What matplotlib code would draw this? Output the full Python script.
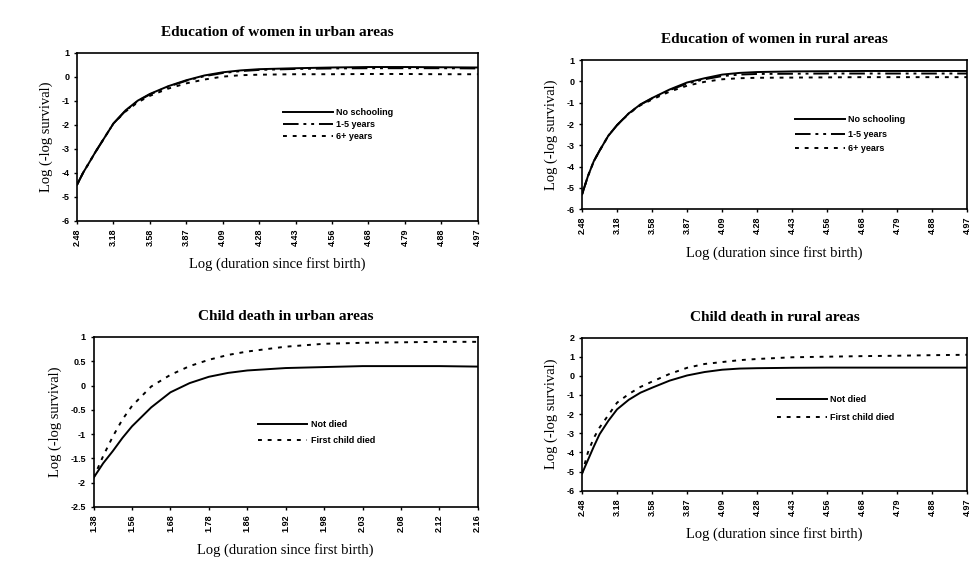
import matplotlib
matplotlib.use("Agg")
import matplotlib.pyplot as plt

# duration since first birth (months) and the log labels shown on the axes
months_ed = [12, 14, 16, 18, 21, 24, 28, 32, 36, 42, 48, 54, 60, 66, 72, 84, 96, 108, 120, 132, 144]
tick_months = [12, 24, 36, 48, 60, 72, 84, 96, 108, 120, 132, 144]
tick_labels_ln = ["2.48", "3.18", "3.58", "3.87", "4.09", "4.28", "4.43", "4.56", "4.68", "4.79", "4.88", "4.97"]

# education, urban
urb_none = [-4.5, -4.0, -3.58, -3.15, -2.55, -1.95, -1.4, -1.0, -0.72, -0.4, -0.15, 0.05, 0.18, 0.26, 0.31, 0.35, 0.38, 0.40, 0.40, 0.39, 0.38]
urb_1_5 = [-4.5, -4.0, -3.58, -3.15, -2.55, -1.95, -1.42, -1.02, -0.74, -0.42, -0.17, 0.02, 0.15, 0.23, 0.28, 0.32, 0.34, 0.35, 0.35, 0.35, 0.34]
urb_6p = [-4.5, -4.0, -3.58, -3.15, -2.55, -1.95, -1.45, -1.07, -0.8, -0.5, -0.28, -0.12, 0.0, 0.06, 0.08, 0.1, 0.1, 0.11, 0.11, 0.1, 0.1]

# education, rural
rur_none = [-5.3, -4.45, -3.75, -3.25, -2.55, -2.05, -1.5, -1.08, -0.78, -0.38, -0.05, 0.15, 0.32, 0.4, 0.44, 0.47, 0.48, 0.49, 0.49, 0.49, 0.49]
rur_1_5 = [-5.3, -4.45, -3.75, -3.25, -2.55, -2.05, -1.5, -1.09, -0.8, -0.41, -0.1, 0.1, 0.25, 0.32, 0.35, 0.36, 0.37, 0.37, 0.37, 0.37, 0.37]
rur_6p = [-5.3, -4.45, -3.75, -3.25, -2.55, -2.05, -1.52, -1.12, -0.85, -0.48, -0.2, -0.02, 0.1, 0.15, 0.17, 0.18, 0.19, 0.2, 0.2, 0.2, 0.2]

# child death, urban (axis starts at 24 months)
months_cu = [24, 27, 30, 33, 36, 42, 48, 54, 60, 66, 72, 84, 96, 108, 120, 132, 144]
tick_months_cu = [24, 36, 48, 60, 72, 84, 96, 108, 120, 132, 144]
tick_labels_log10 = ["1.38", "1.56", "1.68", "1.78", "1.86", "1.92", "1.98", "2.03", "2.08", "2.12", "2.16"]
cu_alive = [-1.9, -1.6, -1.35, -1.08, -0.84, -0.45, -0.14, 0.05, 0.18, 0.26, 0.31, 0.36, 0.38, 0.40, 0.40, 0.40, 0.39]
cu_died = [-1.9, -1.45, -1.05, -0.7, -0.42, -0.02, 0.22, 0.40, 0.53, 0.63, 0.70, 0.80, 0.86, 0.88, 0.89, 0.90, 0.90]

# child death, rural
cr_alive = [-5.1, -4.4, -3.7, -3.05, -2.35, -1.75, -1.25, -0.88, -0.62, -0.25, 0.02, 0.2, 0.32, 0.38, 0.4, 0.42, 0.43, 0.43, 0.43, 0.43, 0.43]
cr_died = [-5.1, -4.0, -3.25, -2.7, -2.05, -1.4, -0.95, -0.58, -0.3, 0.1, 0.42, 0.62, 0.72, 0.82, 0.88, 0.97, 1.0, 1.03, 1.05, 1.08, 1.1]

serif = "Liberation Serif"
sans = "Liberation Sans"
dashdot = (0, (8, 2.5, 1.5, 2.5, 1.5, 2.5))
dotted = (0, (2, 3))

fig = plt.figure(figsize=(9.75, 5.78), dpi=100)


def make_axes(rect, x, series, styles, labels, xticks, xlabels, ylim, yticks, title, leg_xy, leg_space):
    ax = fig.add_axes(rect)
    for y, ls, lab in zip(series, styles, labels):
        ax.plot(x, y, color="black", linestyle=ls, linewidth=1.4, label=lab)
    ax.set_xlim(xticks[0], xticks[-1])
    ax.set_ylim(*ylim)
    ax.set_xticks(xticks)
    ax.set_xticklabels(xlabels, rotation=90, fontsize=6.5, fontweight="bold", family=sans)
    ax.set_yticks(yticks)
    ax.set_yticklabels([f"{t:g}" for t in yticks], fontsize=6.5, fontweight="bold", family=sans)
    ax.tick_params(length=2.5, width=1, pad=3)
    for s in ax.spines.values():
        s.set_linewidth(1.2)
    ax.set_title(title, fontsize=11, fontweight="bold", family=serif, pad=12)
    ax.set_xlabel("Log (duration since first birth)", fontsize=10.5, family=serif, labelpad=8)
    ax.set_ylabel("Log (-log survival)", fontsize=10.5, family=serif, labelpad=6)
    ax.legend(loc="upper left", bbox_to_anchor=leg_xy, frameon=False, borderpad=0, borderaxespad=0,
              handlelength=5.5, handletextpad=0.4, labelspacing=leg_space,
              prop={"family": sans, "size": 6.5, "weight": "bold"})
    return ax


make_axes([0.079, 0.618, 0.411, 0.291], months_ed, [urb_none, urb_1_5, urb_6p],
          ["-", dashdot, dotted], ["No schooling", "1-5 years", "6+ years"],
          tick_months, tick_labels_ln, (-6, 1), [1, 0, -1, -2, -3, -4, -5, -6],
          "Education of women in urban areas", (0.514, 0.67), 0.35)

make_axes([0.597, 0.638, 0.395, 0.258], months_ed, [rur_none, rur_1_5, rur_6p],
          ["-", dashdot, dotted], ["No schooling", "1-5 years", "6+ years"],
          tick_months, tick_labels_ln, (-6, 1), [1, 0, -1, -2, -3, -4, -5, -6],
          "Education of women in rural areas", (0.553, 0.63), 0.6)

make_axes([0.096, 0.123, 0.394, 0.294], months_cu, [cu_alive, cu_died],
          ["-", dotted], ["Not died", "First child died"],
          tick_months_cu, tick_labels_log10, (-2.5, 1), [1, 0.5, 0, -0.5, -1, -1.5, -2, -2.5],
          "Child death in urban areas", (0.427, 0.51), 0.8)

make_axes([0.597, 0.151, 0.395, 0.265], months_ed, [cr_alive, cr_died],
          ["-", dotted], ["Not died", "First child died"],
          tick_months, tick_labels_ln, (-6, 2), [2, 1, 0, -1, -2, -3, -4, -5, -6],
          "Child death in rural areas", (0.506, 0.625), 1.0)

plt.savefig("out.png", dpi=100)
